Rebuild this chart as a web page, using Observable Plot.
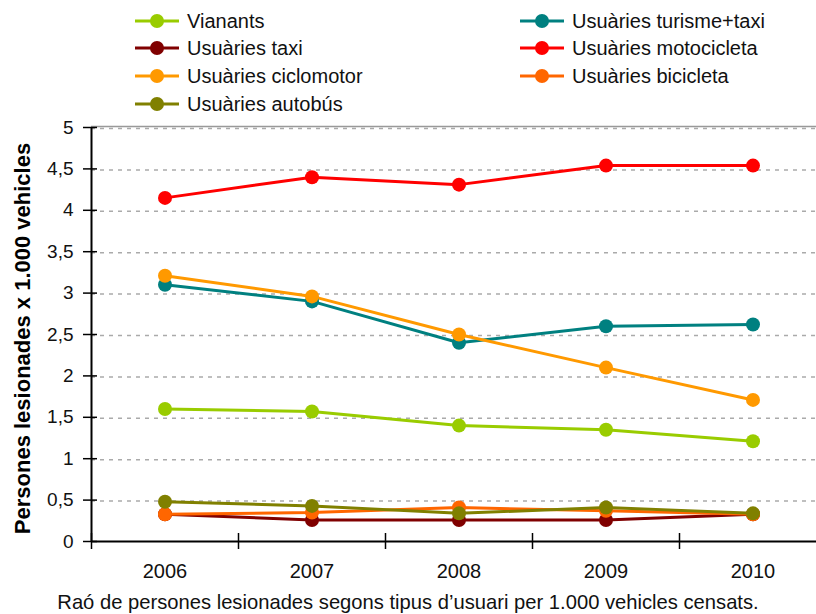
<!DOCTYPE html>
<html>
<head>
<meta charset="utf-8">
<script src="https://cdn.jsdelivr.net/npm/d3@7"></script>
<script src="https://cdn.jsdelivr.net/npm/@observablehq/plot@0.6"></script>
<style>
  html, body { margin: 0; padding: 0; background: #fff; overflow: hidden; width: 816px; height: 614px; }
  body { font-family: "Liberation Sans", Arial, sans-serif; position: relative; }
  #legend { position: relative; height: 118px; width: 816px; }
  .item { position: absolute; display: flex; align-items: center; font-size: 20px; color: #111; white-space: nowrap; }
  .item svg { margin-right: 8px; }
  #caption { position: absolute; top: 591px; left: 0; width: 816px; text-align: center; font-size: 20.2px; color: #111; }
  #chart { width: 830px; }
  #chart svg { display: block; overflow: visible; max-width: none !important; }
</style>
</head>
<body>
<div id="legend"></div>
<div id="chart"></div>
<div id="caption">Raó de persones lesionades segons tipus d’usuari per 1.000 vehicles censats.</div>
<script>
const years = [2006, 2007, 2008, 2009, 2010];
const seriesNames = [
  "Vianants", "Usuàries turisme+taxi", "Usuàries taxi", "Usuàries motocicleta",
  "Usuàries ciclomotor", "Usuàries bicicleta", "Usuàries autobús"
];
const seriesColors = ["#99CC00", "#008080", "#800000", "#FF0000", "#FF9900", "#FF6600", "#808000"];
const vianants   = [1.60, 1.57, 1.40, 1.35, 1.21];
const turisme    = [3.10, 2.90, 2.40, 2.60, 2.62];
const taxi       = [0.33, 0.26, 0.26, 0.26, 0.33];
const moto       = [4.15, 4.40, 4.31, 4.54, 4.54];
const ciclomotor = [3.21, 2.96, 2.50, 2.10, 1.71];
const bicicleta  = [0.33, 0.35, 0.41, 0.37, 0.33];
const autobus    = [0.48, 0.43, 0.34, 0.41, 0.34];
const yTicks = [0, 0.5, 1, 1.5, 2, 2.5, 3, 3.5, 4, 4.5, 5];
const yLabel = "Persones lesionades x 1.000 vehicles";

const allValues = [vianants, turisme, taxi, moto, ciclomotor, bicicleta, autobus];
const data = [];
seriesNames.forEach((name, i) => {
  years.forEach((yr, j) => data.push({ series: name, year: yr, value: allValues[i][j] }));
});

// Legend
const legend = document.getElementById("legend");
const legendPos = [
  [135, 21], [520, 21],
  [135, 48], [520, 48],
  [135, 76], [520, 76],
  [135, 104]
];
seriesNames.forEach((name, si) => {
  const [lx, ly] = legendPos[si];
  const div = document.createElement("div");
  div.className = "item";
  div.style.left = lx + "px";
  div.style.top = (ly - 12) + "px";
  div.style.height = "24px";
  const c = seriesColors[si];
  div.innerHTML = `<svg width="44" height="24"><line x1="0" x2="44" y1="12" y2="12" stroke="${c}" stroke-width="3"/><circle cx="22" cy="12" r="7" fill="${c}"/></svg><span>${name}</span>`;
  legend.appendChild(div);
});

const xDomain = [years[0] - 0.5, years[years.length - 1] + 0.5];
const xBoundaries = d3.range(xDomain[0], xDomain[1] + 0.01, 1);
const fmt = d => String(d).replace(".", ",");
const colorOf = d => seriesColors[seriesNames.indexOf(d.series)];

const chart = Plot.plot({
  width: 830,
  height: 470,
  marginLeft: 91,
  marginRight: 4,
  marginTop: 9,
  marginBottom: 47,
  style: { fontFamily: "Liberation Sans, Arial, sans-serif", fontSize: "18px", color: "#111", background: "transparent" },
  x: { domain: xDomain, axis: null },
  y: { domain: [0, 5], axis: null },
  marks: [
    Plot.gridY(yTicks.slice(1), { stroke: "#aaa", strokeOpacity: 1, strokeDasharray: "4,5", strokeWidth: 1.5, dy: 1 }),
    Plot.ruleY([yTicks[yTicks.length - 1]], { stroke: "#999", strokeWidth: 1.5, dy: -1 }),
    Plot.axisY({ ticks: yTicks, tickFormat: fmt, tickSize: 8, tickPadding: 10, label: null, fontSize: 19, stroke: "#000", strokeWidth: 1.5 }),
    Plot.axisY({ ticks: yTicks, tickFormat: () => "", tickSize: -6, label: null, stroke: "#000", strokeWidth: 1.5 }),
    Plot.axisX({ ticks: xBoundaries, tickFormat: () => "", tickSize: 8, label: null, stroke: "#000", strokeWidth: 1.5 }),
    Plot.axisX({ ticks: xBoundaries, tickFormat: () => "", tickSize: -8, label: null, stroke: "#000", strokeWidth: 1.5 }),
    Plot.axisX({ ticks: years, tickFormat: d => String(d), tickSize: 0, tickPadding: 22, label: null, fontSize: 20 }),
    Plot.ruleY([0], { stroke: "#000", strokeWidth: 2 }),
    Plot.ruleX([xDomain[0]], { stroke: "#000", strokeWidth: 2 }),
    Plot.line(data, { x: "year", y: "value", z: "series", stroke: colorOf, strokeWidth: 3 }),
    Plot.dot(data, { x: "year", y: "value", r: 7, fill: colorOf, stroke: "none" }),
    Plot.text([yLabel], { text: d => d, frameAnchor: "left", textAnchor: "middle", rotate: -90, dx: -69, dy: 4, fontWeight: "bold", fontSize: 22, fill: "#000" })
  ]
});
document.getElementById("chart").appendChild(chart);
</script>
</body>
</html>
